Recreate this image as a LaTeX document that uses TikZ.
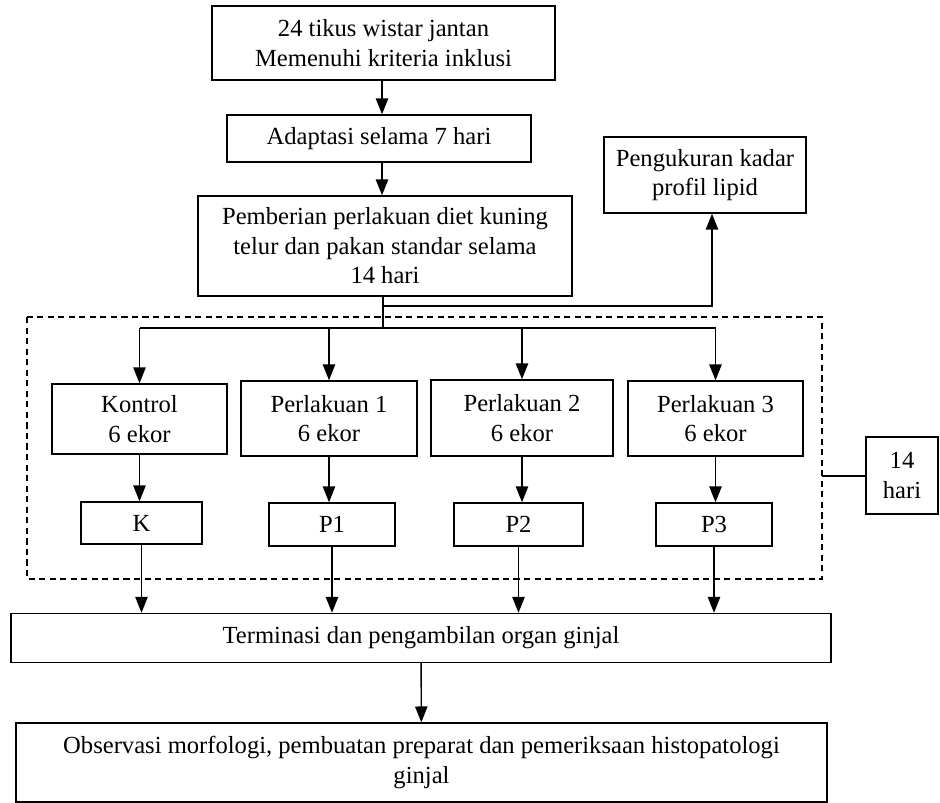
\documentclass[tikz,border=0pt]{standalone}
\usepackage{fontspec}
\setmainfont{Liberation Serif}
\usetikzlibrary{arrows.meta}

\begin{document}
\begin{tikzpicture}[x=0.02cm,y=-0.02cm,line width=0.8pt,
    arr/.style={-{Triangle[width=7pt,length=9pt]}},
    dim/.style 2 args={minimum width=#1*0.02cm,minimum height=#2*0.02cm},
    box/.style={draw,align=center,inner sep=0pt,
      font=\fontsize{14}{16.8}\selectfont}]

\useasboundingbox (0,0) rectangle (940,803);

\node[box, dim={343}{74}] (tikus) at (383.5,43) {24 tikus wistar jantan\\Memenuhi kriteria inklusi};
\node[box, dim={304}{47}] (adapt) at (379,138.5) {Adaptasi selama 7 hari};
\node[box, dim={374}{100}] (diet) at (385,246) {Pemberian perlakuan diet kuning\\telur dan pakan standar selama\\14 hari};
\node[box, dim={202}{76}] (lipid) at (705,175) {Pengukuran kadar\\profil lipid};

\node[box, dim={175}{70}] (kon) at (139.5,419) {Kontrol\\6 ekor};
\node[box, dim={176}{75}] (per1) at (329,418.5) {Perlakuan 1\\6 ekor};
\node[box, dim={182}{76}] (per2) at (522,418) {Perlakuan 2\\6 ekor};
\node[box, dim={175}{75}] (per3) at (715.5,418.5) {Perlakuan 3\\6 ekor};

\node[box, dim={121}{42}] (K) at (141.5,523) {K};
\node[box, dim={126}{43}] (P1) at (332,524.5) {P1};
\node[box, dim={129}{43}] (P2) at (518.5,524.5) {P2};
\node[box, dim={116}{43}] (P3) at (714,524.5) {P3};

\node[box, dim={72}{77}] (hari) at (902,475.5) {14\\hari};

\node[box, dim={820}{49}] (term) at (421,638) {Terminasi dan pengambilan organ ginjal};
\node[box, dim={811}{79}] (obs) at (421.5,762.5) {Observasi morfologi, pembuatan preparat dan pemeriksaan histopatologi\\ginjal};

\draw[dash pattern=on 3.5pt off 2.5pt] (27,317) rectangle (822,579);
\coordinate (lurus) at (382,0);
\coordinate (cab) at (383,306);
\coordinate (bagi) at (383,328);
\coordinate (kotak) at (822,476);

\draw[arr] (tikus.south -| lurus) -- (adapt.north -| lurus);
\draw[arr] (adapt.south -| lurus) -- (diet.north -| lurus);
\draw (diet.south -| cab) -- (bagi);
\draw[arr] (cab) -| (lipid.south -| 712,0);
\draw (kon.north |- bagi) -- (per3.north |- bagi);
\foreach \g in {kon,per1,per2,per3}
  \draw[arr] (\g.north |- bagi) -- (\g.north);
\foreach \g/\s in {kon/K,per1/P1,per2/P2,per3/P3} {
  \draw[arr] (\g.south) -- (\g.south |- \s.north);
  \draw[arr] (\s.south) -- (\s.south |- term.north);
}
\draw (kotak) -- (hari.west |- kotak);
\draw[arr] (term) -- (obs);

\end{tikzpicture}
\end{document}
